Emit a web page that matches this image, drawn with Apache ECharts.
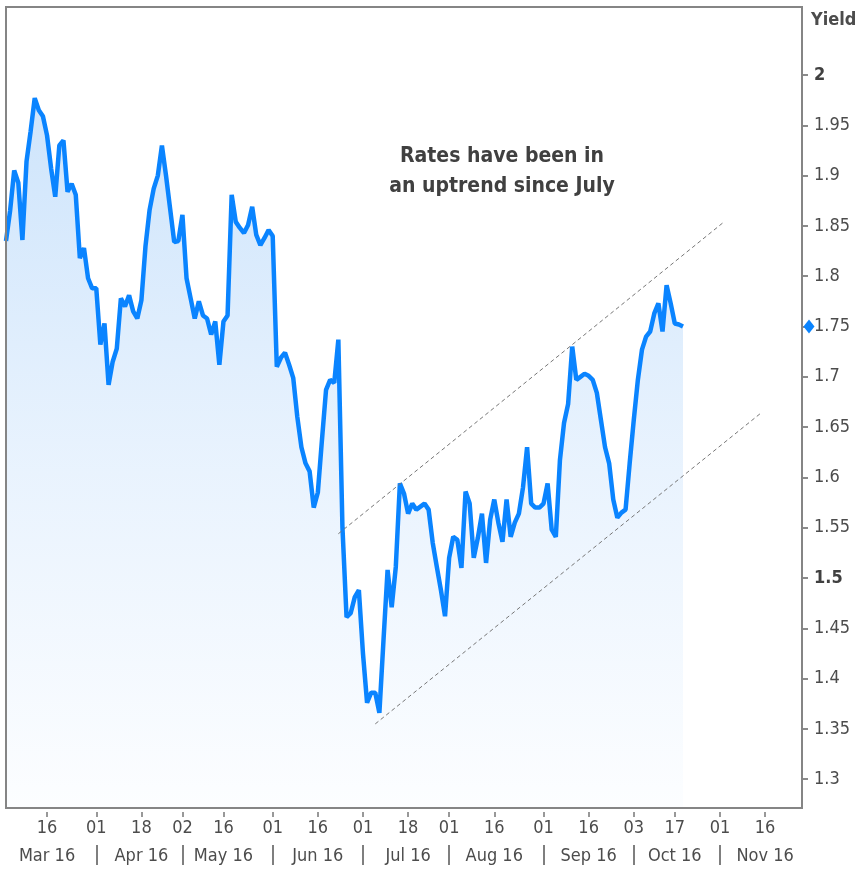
<!DOCTYPE html>
<html>
<head>
<meta charset="utf-8">
<script src="https://cdn.jsdelivr.net/npm/echarts@6/dist/echarts.min.js"></script>
<style>
  html, body { margin: 0; padding: 0; background: #fff; }
  #chart { width: 857px; height: 873px; }
</style>
</head>
<body>
<div id="chart"></div>
<script>
// ====================== data ======================
const firstDay = '2016-03-02';
const lastDay = '2016-11-29';

// 10y yield, one value per weekday from firstDay
const yields = [
  1.835, 1.865, 1.905, 1.893, 1.836, 1.914, 1.944, 1.977, 1.965, 1.959,
  1.940, 1.907, 1.879, 1.930, 1.935, 1.884, 1.892, 1.881, 1.818, 1.828,
  1.798, 1.788, 1.788, 1.732, 1.753, 1.692, 1.715, 1.728, 1.778, 1.770,
  1.781, 1.765, 1.758, 1.776, 1.830, 1.866, 1.887, 1.900, 1.930, 1.900,
  1.867, 1.834, 1.835, 1.861, 1.798, 1.778, 1.758, 1.775, 1.761, 1.758,
  1.742, 1.755, 1.712, 1.755, 1.761, 1.881, 1.854, 1.848, 1.843, 1.851,
  1.869, 1.841, 1.831, 1.838, 1.846, 1.840, 1.710, 1.719, 1.724, 1.712,
  1.699, 1.660, 1.630, 1.614, 1.606, 1.570, 1.585, 1.637, 1.687, 1.697,
  1.694, 1.737, 1.550, 1.461, 1.465, 1.481, 1.488, 1.425, 1.376, 1.386,
  1.386, 1.366, 1.438, 1.508, 1.471, 1.511, 1.594, 1.584, 1.564, 1.574,
  1.568, 1.571, 1.574, 1.568, 1.535, 1.511, 1.488, 1.462, 1.520, 1.541,
  1.538, 1.510, 1.586, 1.574, 1.520, 1.540, 1.564, 1.515, 1.558, 1.578,
  1.555, 1.536, 1.578, 1.541, 1.555, 1.564, 1.590, 1.630, 1.574, 1.570,
  1.570, 1.574, 1.594, 1.548, 1.541, 1.617, 1.654, 1.673, 1.730, 1.697,
  1.700, 1.703, 1.701, 1.697, 1.684, 1.657, 1.630, 1.614, 1.578, 1.560,
  1.565, 1.568, 1.614, 1.657, 1.697, 1.727, 1.740, 1.745, 1.763, 1.773,
  1.745, 1.791, 1.773, 1.753, 1.752, 1.750
];

const dayTickDates = ['2016-03-16', '2016-04-01', '2016-04-18', '2016-05-02', '2016-05-16', '2016-06-01',
  '2016-06-16', '2016-07-01', '2016-07-18', '2016-08-01', '2016-08-16', '2016-09-01', '2016-09-16',
  '2016-10-03', '2016-10-17', '2016-11-01', '2016-11-16'];
const monthLabelDates = ['2016-03-16', '2016-04-18', '2016-05-16', '2016-06-16', '2016-07-18',
  '2016-08-16', '2016-09-16', '2016-10-17', '2016-11-16'];
const monthLabels = ['Mar 16', 'Apr 16', 'May 16', 'Jun 16', 'Jul 16', 'Aug 16', 'Sep 16', 'Oct 16', 'Nov 16'];
const monthSepDates = ['2016-04-01', '2016-05-02', '2016-06-01', '2016-07-01', '2016-08-01',
  '2016-09-01', '2016-10-03', '2016-11-01'];

const yTicks = [1.3, 1.35, 1.4, 1.45, 1.5, 1.55, 1.6, 1.65, 1.7, 1.75, 1.8, 1.85, 1.9, 1.95, 2];
const yBold = [1.5, 2];
const yMin = 1.2714, yMax = 2.0676;

// channel lines [start date, value, end date, value]
const upperChannel = ['2016-06-23', 1.544, '2016-11-02', 1.854];
const lowerChannel = ['2016-07-06', 1.355, '2016-11-15', 1.664];

const noteText = 'Rates have been in\nan uptrend since July';

// ====================== axis dates (weekdays) ======================
function weekdays(from, to) {
  const out = [];
  const d = new Date(from + 'T00:00:00Z');
  const end = new Date(to + 'T00:00:00Z');
  while (d <= end) {
    const w = d.getUTCDay();
    if (w !== 0 && w !== 6) out.push(d.toISOString().slice(0, 10));
    d.setUTCDate(d.getUTCDate() + 1);
  }
  return out;
}
const dates = weekdays(firstDay, lastDay);
const lastValue = yields[yields.length - 1];

const FONT = "'DejaVu Sans Condensed', 'DejaVu Sans', sans-serif";
const LABEL_COLOR = '#4c4c4c';

const chart = echarts.init(document.getElementById('chart'));

chart.setOption({
  backgroundColor: '#fff',
  animation: false,
  grid: {
    left: 6, right: 55, top: 7, bottom: 65, z: 10,
    show: true, borderColor: '#858585', borderWidth: 2,
    containLabel: false, outerBoundsMode: 'none'
  },
  xAxis: [{
    type: 'category', data: dates, boundaryGap: false,
    offset: 4,
    axisLine: { show: false },
    axisTick: {
      show: true, length: 5,
      interval: (i, v) => dayTickDates.includes(v),
      lineStyle: { color: '#777', width: 1.5 }
    },
    axisLabel: {
      interval: (i, v) => dayTickDates.includes(v),
      formatter: v => v.slice(8),
      margin: 7, color: LABEL_COLOR, fontFamily: FONT, fontSize: 18
    },
    splitLine: { show: false }
  }, {
    type: 'category', data: dates, boundaryGap: false,
    position: 'bottom', offset: 37,
    axisLine: { show: false },
    axisTick: {
      show: true, length: 20,
      interval: (i, v) => monthSepDates.includes(v),
      lineStyle: { color: '#555', width: 1.5 }
    },
    axisLabel: {
      interval: (i, v) => monthLabelDates.includes(v),
      formatter: v => monthLabels[monthLabelDates.indexOf(v)],
      margin: 2, color: LABEL_COLOR, fontFamily: FONT, fontSize: 18
    },
    splitLine: { show: false }
  }],
  yAxis: {
    type: 'value', position: 'right',
    min: yMin, max: yMax,
    name: 'Yield', nameLocation: 'end', nameGap: -13,
    nameTextStyle: { align: 'left', verticalAlign: 'middle', padding: [0, 0, 0, 9],
      color: LABEL_COLOR, fontFamily: FONT, fontSize: 18, fontWeight: 'bold' },
    axisLine: { show: true, lineStyle: { color: '#666', width: 2 } },
    axisTick: { show: true, length: 6, customValues: yTicks, lineStyle: { color: '#666', width: 1.5 } },
    axisLabel: {
      customValues: yTicks, margin: 12,
      color: LABEL_COLOR, fontFamily: FONT, fontSize: 18,
      formatter: v => {
        const s = String(+v.toFixed(2));
        return yBold.includes(+v.toFixed(2)) ? '{b|' + s + '}' : s;
      },
      rich: { b: { fontWeight: 'bold', fontFamily: FONT, fontSize: 18, color: '#404040' } }
    },
    splitLine: { show: false }
  },
  graphic: [{
    type: 'text', x: 502, y: 172,
    style: {
      text: noteText, align: 'center', verticalAlign: 'middle',
      font: 'bold 21px ' + FONT, lineHeight: 30, fill: '#404040'
    }
  }],
  series: [{
    type: 'line',
    data: yields,
    symbol: 'none',
    lineStyle: { color: '#0a84ff', width: 4.5 },
    itemStyle: { color: '#0a84ff' },
    areaStyle: {
      color: new echarts.graphic.LinearGradient(0, 0, 0, 1, [
        { offset: 0, color: '#b9d9fa' },
        { offset: 0.5, color: '#deedfd' },
        { offset: 1, color: '#fbfdff' }
      ])
    },
    markLine: {
      silent: true, symbol: ['none', 'none'], label: { show: false },
      lineStyle: { color: '#777', width: 1, type: [4, 3] },
      data: [
        [{ coord: [upperChannel[0], upperChannel[1]] }, { coord: [upperChannel[2], upperChannel[3]] }],
        [{ coord: [lowerChannel[0], lowerChannel[1]] }, { coord: [lowerChannel[2], lowerChannel[3]] }]
      ]
    },
    markPoint: {
      silent: true, symbol: 'diamond', symbolSize: [11, 14], symbolOffset: [7, 0],
      itemStyle: { color: '#0a84ff' }, label: { show: false },
      data: [{ coord: [dates[dates.length - 1], lastValue] }]
    }
  }]
});
</script>
</body>
</html>
